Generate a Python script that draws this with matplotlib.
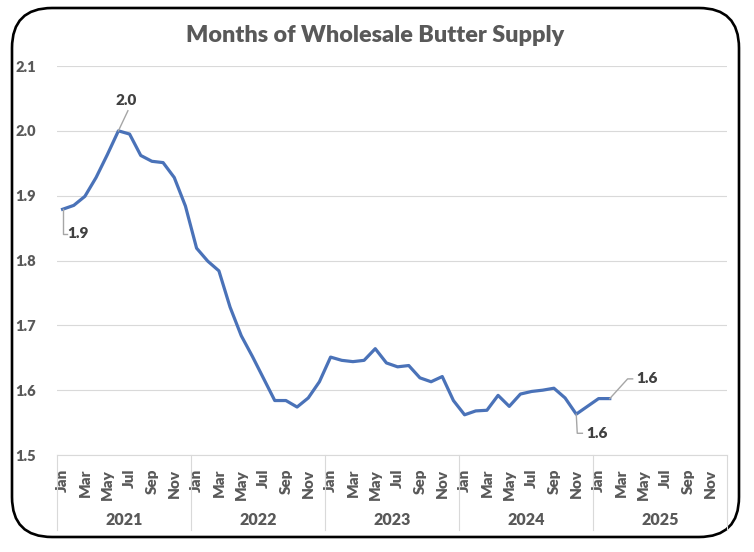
import matplotlib.pyplot as plt
from matplotlib.patches import FancyBboxPatch
from matplotlib.transforms import blended_transform_factory
import numpy as np

plt.rcParams['font.family'] = ['Lato', 'DejaVu Sans']

# monthly values, Jan 2021 .. Feb 2025
supply = [
    1.879, 1.885, 1.899, 1.928, 1.963, 2.000, 1.995, 1.962, 1.953, 1.951, 1.928, 1.884,  # 2021
    1.819, 1.799, 1.784, 1.728, 1.684, 1.652, 1.618, 1.584, 1.584, 1.574, 1.588, 1.613,  # 2022
    1.651, 1.646, 1.644, 1.646, 1.664, 1.642, 1.636, 1.638, 1.619, 1.613, 1.621, 1.584,  # 2023
    1.562, 1.568, 1.569, 1.592, 1.575, 1.594, 1.598, 1.600, 1.603, 1.588, 1.563, 1.575,  # 2024
    1.587, 1.587,                                                                        # 2025
]
years = ['2021', '2022', '2023', '2024', '2025']
months = ['Jan', 'Mar', 'May', 'Jul', 'Sep', 'Nov']
y_ticks = [1.5, 1.6, 1.7, 1.8, 1.9, 2.0, 2.1]

# labelled points: (index, label)
labels = [(0, '1.9'), (5, '2.0'), (46, '1.6'), (49, '1.6')]

grey = '#595959'
fig = plt.figure(figsize=(7.54, 5.52), dpi=100)

# rounded frame round the whole chart (display pixels)
frame = FancyBboxPatch((12, 15), 727, 529, boxstyle='round,pad=0,rounding_size=40',
                       transform=None, facecolor='white', edgecolor='black', linewidth=1.9,
                       zorder=-5)
fig.patches.append(frame)

ax = fig.add_axes([57 / 754, 1 - 455 / 552, 670 / 754, 389 / 552])
ax.set_facecolor('none')

x = np.arange(len(supply))
ax.plot(x, supply, color='#4a72b8', linewidth=2.3, solid_joinstyle='round')

ax.set_xlim(-0.5, 59.5)
ax.set_ylim(1.5, 2.1)
ax.set_yticks(y_ticks)
ax.set_yticklabels([f'{v:.1f}' for v in y_ticks], fontsize=10.5, fontweight='heavy', color=grey)
ax.yaxis.grid(True, color='#d9d9d9', linewidth=0.8)
ax.set_axisbelow(True)
ax.tick_params(axis='y', length=0, pad=15)

ax.set_xticks(np.arange(0, 60, 2))
ax.set_xticklabels(months * len(years), rotation=90, fontsize=11, fontweight='heavy',
                   color=grey, va='top', ha='center')
ax.tick_params(axis='x', length=0, pad=10)

for s in ['top', 'right', 'left']:
    ax.spines[s].set_visible(False)
ax.spines['bottom'].set_color('#d9d9d9')
ax.spines['bottom'].set_linewidth(0.8)

trans = blended_transform_factory(ax.transData, ax.transAxes)
for i, yr in enumerate(years):
    ax.text(i * 12 + 5.5, -0.167, yr, transform=trans, ha='center', va='center',
            fontsize=11.5, fontweight='heavy', color=grey)
for b in range(len(years) + 1):
    ax.plot([b * 12 - 0.5, b * 12 - 0.5], [0, -0.193], transform=trans, clip_on=False,
            color='#d9d9d9', linewidth=0.8)

# data labels with leader lines
lead = '#a6a6a6'
lab_style = dict(fontsize=11, fontweight='heavy', color='#404040')
i, t = labels[0]
ax.plot([i, i, i + 0.4], [supply[i], 1.8415, 1.8415], color=lead, lw=1)
ax.text(i + 0.45, 1.8415, t, ha='left', va='center', **lab_style)
i, t = labels[1]
ax.plot([i, i + 0.85], [supply[i], 2.031], color=lead, lw=1)
ax.text(i + 0.7, 2.036, t, ha='center', va='bottom', **lab_style)
i, t = labels[2]
ax.plot([i, i + 0.09, i + 0.55], [supply[i], 1.5335, 1.5335], color=lead, lw=1)
ax.text(i + 0.9, 1.5335, t, ha='left', va='center', **lab_style)
i, t = labels[3]
ax.plot([i, i + 1.6, i + 2.05], [supply[i], 1.6174, 1.6174], color=lead, lw=1)
ax.text(i + 2.35, 1.6174, t, ha='left', va='center', **lab_style)

fig.text(375 / 754, 1 - 35 / 552, 'Months of Wholesale Butter Supply', ha='center', va='center',
         fontsize=16.8, fontweight='heavy', color=grey)

fig.savefig('out.png', dpi=100)
